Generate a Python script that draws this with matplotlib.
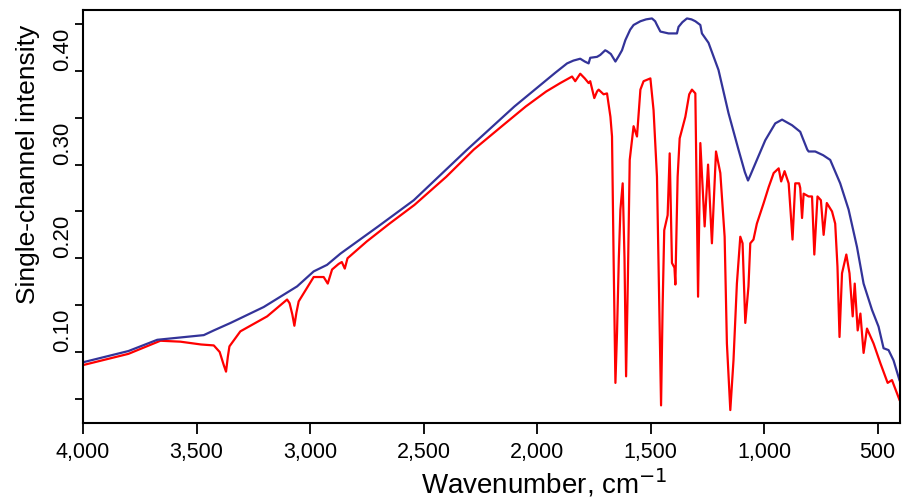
import matplotlib
matplotlib.use("Agg")
import matplotlib.pyplot as plt
from matplotlib.ticker import FuncFormatter, MultipleLocator

plt.rcParams['font.family'] = ['Liberation Sans', 'DejaVu Sans']

# blue: reference single-channel spectrum
wn_blue = [4000, 3900, 3800, 3673, 3550, 3468, 3424, 3350, 3204, 3057, 2984, 2925,
           2866, 2700, 2543, 2308, 2100, 2000, 1920, 1868, 1840, 1810, 1790, 1773,
           1766, 1736, 1722, 1700, 1692, 1675, 1655, 1640, 1626, 1611, 1590, 1575,
           1545, 1520, 1494, 1480, 1472, 1457, 1421, 1384, 1377, 1360, 1340, 1320,
           1303, 1281, 1274, 1245, 1201, 1157, 1113, 1085, 1071, 1060, 1032, 995,
           951, 921, 877, 841, 833, 810, 804, 775, 740, 709, 665, 628, 591, 562,
           525, 496, 474, 452, 430, 404]
int_blue = [0.089, 0.095, 0.101, 0.113, 0.116, 0.118, 0.123, 0.131, 0.148, 0.170, 0.186, 0.193,
            0.205, 0.234, 0.262, 0.316, 0.362, 0.382, 0.398, 0.408, 0.411, 0.413, 0.410, 0.408,
            0.414, 0.415, 0.417, 0.422, 0.421, 0.418, 0.410, 0.416, 0.422, 0.433, 0.444, 0.449,
            0.453, 0.455, 0.456, 0.453, 0.449, 0.442, 0.440, 0.440, 0.447, 0.452, 0.456, 0.455,
            0.453, 0.449, 0.440, 0.430, 0.401, 0.355, 0.316, 0.292, 0.283, 0.289, 0.305, 0.326,
            0.344, 0.348, 0.342, 0.335, 0.330, 0.316, 0.314, 0.314, 0.310, 0.305, 0.280, 0.252,
            0.212, 0.173, 0.145, 0.127, 0.104, 0.102, 0.091, 0.070]

# red: sample single-channel spectrum
wn_red = [4000, 3900, 3800, 3659, 3571, 3480, 3424, 3398, 3380, 3370, 3362, 3355, 3307,
          3189, 3101, 3090, 3078, 3069, 3060, 3050, 2984, 2940, 2922, 2903, 2874, 2860,
          2847, 2835, 2750, 2650, 2540, 2400, 2279, 2150, 2050, 1960, 1898, 1846, 1832,
          1810, 1790, 1773, 1766, 1748, 1736, 1729, 1707, 1692, 1677, 1670, 1663, 1655,
          1648, 1640, 1633, 1623, 1615, 1608, 1600, 1592, 1575, 1560, 1545, 1531, 1501,
          1487, 1472, 1460, 1454, 1447, 1440, 1425, 1416, 1406, 1395, 1391, 1381, 1372,
          1347, 1330, 1318, 1303, 1291, 1281, 1262, 1247, 1230, 1212, 1193, 1174, 1164,
          1149, 1135, 1120, 1105, 1095, 1083, 1069, 1061, 1047, 1032, 1002, 980, 958,
          936, 925, 910, 892, 875, 863, 846, 841, 833, 826, 804, 789, 779, 765, 750,
          738, 724, 701, 687, 677, 668, 657, 638, 624, 610, 601, 588, 576, 562, 547,
          518, 488, 456, 437, 404]
int_red = [0.086, 0.092, 0.098, 0.112, 0.111, 0.108, 0.107, 0.100, 0.086, 0.079, 0.095, 0.106, 0.122,
           0.138, 0.156, 0.152, 0.140, 0.128, 0.142, 0.154, 0.180, 0.180, 0.173, 0.188, 0.194, 0.196,
           0.189, 0.200, 0.218, 0.237, 0.257, 0.287, 0.316, 0.342, 0.362, 0.378, 0.387, 0.394, 0.389,
           0.397, 0.392, 0.387, 0.389, 0.371, 0.378, 0.380, 0.375, 0.376, 0.351, 0.330, 0.200, 0.067,
           0.120, 0.200, 0.252, 0.280, 0.200, 0.074, 0.180, 0.305, 0.341, 0.330, 0.380, 0.389, 0.392,
           0.358, 0.287, 0.120, 0.043, 0.150, 0.230, 0.246, 0.312, 0.195, 0.190, 0.172, 0.287, 0.328,
           0.351, 0.375, 0.380, 0.376, 0.159, 0.323, 0.234, 0.300, 0.216, 0.314, 0.291, 0.223, 0.109,
           0.038, 0.091, 0.173, 0.223, 0.216, 0.131, 0.170, 0.216, 0.220, 0.237, 0.259, 0.276, 0.291,
           0.296, 0.282, 0.293, 0.280, 0.220, 0.280, 0.280, 0.275, 0.243, 0.269, 0.266, 0.266, 0.204,
           0.266, 0.262, 0.225, 0.259, 0.250, 0.237, 0.191, 0.116, 0.184, 0.204, 0.184, 0.138, 0.173,
           0.123, 0.141, 0.099, 0.125, 0.109, 0.088, 0.067, 0.070, 0.049]

x_ticks = [4000, 3500, 3000, 2500, 2000, 1500, 1000, 500]
y_ticks = [0.10, 0.20, 0.30, 0.40]

fig = plt.figure(figsize=(9.09, 5.0), dpi=100)
ax = fig.add_axes([0.0913, 0.154, 0.8987, 0.826])

ax.plot(wn_red, int_red, color='#ff0000', lw=1.6)
ax.plot(wn_blue, int_blue, color='#333399', lw=1.6)

ax.set_xlim(4000, 402)
ax.set_ylim(0.0242, 0.465)

for s in ax.spines.values():
    s.set_linewidth(1.5)

# x axis
ax.set_xticks(x_ticks)
ax.xaxis.set_major_formatter(FuncFormatter(lambda v, p: f"{int(v):,}"))
ax.tick_params(axis='x', direction='out', length=8, width=1.3, pad=6, labelsize=15.5)

# y axis, labels rotated and starting at the tick
ax.set_yticks(y_ticks)
ax.yaxis.set_minor_locator(MultipleLocator(0.05))
ax.yaxis.set_major_formatter(FuncFormatter(lambda v, p: f"{v:.2f}"))
ax.tick_params(axis='y', which='both', direction='out', length=6, width=1.3, pad=1)
ax.tick_params(axis='y', which='major', labelsize=16, labelrotation=90)
for lab in ax.get_yticklabels():
    lab.set_va('bottom')

ax.set_xlabel("Wavenumber, cm$^{-1}$", fontsize=20)
ax.xaxis.set_label_coords(0.565, -0.105)
ax.set_ylabel("Single-channel intensity", fontsize=19)
ax.yaxis.label.set_va('center')
ax.yaxis.set_label_coords(-0.067, 0.625)

fig.savefig("out.png", dpi=100)
